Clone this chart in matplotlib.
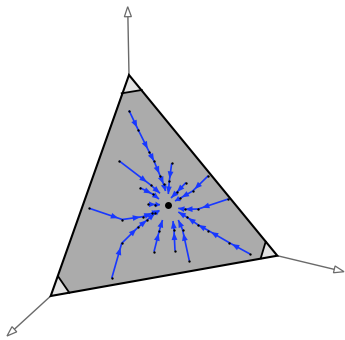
import numpy as np
import matplotlib
matplotlib.use("Agg")
import matplotlib.pyplot as plt
from matplotlib.patches import Polygon

# ---- data (image-plane coordinates of the projected simplex) ----
vertex_top = (129.0, 75.0)
vertex_left = (50.7, 296.0)
vertex_right = (277.3, 255.7)

axis_tip_top = (127.7, 6.7)
axis_tip_left = (7.0, 336.0)
axis_tip_right = (344.0, 271.7)

cut_top = [(121.7, 93.3), (141.7, 90.0)]
cut_left = [(58.3, 276.7), (69.3, 292.7)]
cut_right = [(260.7, 258.3), (265.7, 241.7)]

fixed_point = (168.3, 205.0)

traj_1 = [(129.0, 110.5), (138.3, 130.0), (149.0, 151.5), (154.0, 161.0), (160.0, 175.5), (163.5, 184.0), (165.5, 191.0)]
traj_2 = [(119.3, 161.0), (150.7, 185.0), (160.0, 193.3)]
traj_3 = [(171.7, 163.3), (169.3, 181.0), (168.3, 194.0)]
traj_4 = [(140.0, 187.7), (153.0, 194.3), (159.0, 199.0)]
traj_5 = [(186.0, 182.5), (177.0, 192.0), (171.0, 198.0)]
traj_6 = [(208.3, 175.7), (192.7, 191.0), (180.0, 198.3), (175.0, 201.0)]
traj_7 = [(228.3, 199.0), (198.3, 209.0), (185.0, 209.3), (178.3, 208.3)]
traj_8 = [(250.0, 254.0), (229.3, 242.7), (208.3, 230.5), (198.3, 225.0), (186.7, 217.0), (178.3, 212.0)]
traj_9 = [(189.3, 260.7), (182.5, 229.5), (178.3, 220.0)]
traj_10 = [(175.0, 250.7), (174.0, 230.0), (173.0, 221.0)]
traj_11 = [(154.0, 251.7), (159.3, 230.7), (162.5, 220.0)]
traj_12 = [(111.7, 278.3), (121.7, 243.3), (138.3, 227.0), (146.7, 220.3), (155.0, 213.3), (159.5, 210.5)]
traj_13 = [(89.3, 208.3), (122.3, 219.5), (142.7, 216.7), (151.7, 213.3), (158.3, 211.0)]
traj_14 = [(148.3, 204.3), (155.0, 204.5), (160.0, 204.7)]

trajectories = [traj_1, traj_2, traj_3, traj_4, traj_5, traj_6, traj_7,
                traj_8, traj_9, traj_10, traj_11, traj_12, traj_13, traj_14]

# ---- styling ----
BLUE = "#1838ff"
FILL = "#ababab"
CORNER = "#e2e2e2"
AXIS = "#6a6a6a"

fig = plt.figure(figsize=(3.45, 3.40), dpi=100)
ax = fig.add_axes([0, 0, 1, 1])
ax.set_xlim(0, 345)
ax.set_ylim(340, 0)
ax.set_aspect("equal")
ax.axis("off")


def open_arrow(ax, start, tip, length=10.0, half_w=3.5):
    s = np.array(start); t = np.array(tip)
    d = t - s
    d = d / np.linalg.norm(d)
    n = np.array([-d[1], d[0]])
    base = t - d * length
    ax.plot([s[0], base[0]], [s[1], base[1]], color=AXIS, lw=1.0, zorder=1,
             solid_capstyle="butt")
    poly = Polygon([t, base + n * half_w, base - n * half_w], closed=True,
                   facecolor="white", edgecolor=AXIS, lw=0.9, zorder=2)
    ax.add_patch(poly)


# axes of the 3D frame
open_arrow(ax, vertex_top, axis_tip_top)
open_arrow(ax, vertex_left, axis_tip_left)
open_arrow(ax, vertex_right, axis_tip_right)

# simplex
tri = Polygon([vertex_top, vertex_right, vertex_left], closed=True,
              facecolor=CORNER, edgecolor="none", zorder=3)
ax.add_patch(tri)
inner = Polygon([cut_top[1], cut_right[1], cut_right[0], cut_left[1], cut_left[0], cut_top[0]],
                closed=True, facecolor=FILL, edgecolor="none", zorder=4)
ax.add_patch(inner)
for cut in (cut_top, cut_left, cut_right):
    ax.plot([cut[0][0], cut[1][0]], [cut[0][1], cut[1][1]], color="black", lw=1.3, zorder=5)
edge = Polygon([vertex_top, vertex_right, vertex_left], closed=True,
               facecolor="none", edgecolor="black", lw=1.5, zorder=6, joinstyle="miter")
ax.add_patch(edge)

# trajectories
for tr in trajectories:
    pts = np.array(tr)
    ax.plot(pts[:, 0], pts[:, 1], color=BLUE, lw=1.2, zorder=7, solid_capstyle="butt")
    for p0, p1 in zip(pts[:-1], pts[1:]):
        d = p1 - p0
        L = np.linalg.norm(d)
        u = d / L
        n = np.array([-u[1], u[0]])
        tip = p0 + d * 0.88 if L > 14 else p1
        hl = min(7.5, L * 0.9)
        base = tip - u * hl
        ax.add_patch(Polygon([tip, base + n * 2.9, base - n * 2.9], closed=True,
                             facecolor=BLUE, edgecolor="none", zorder=8))
    ax.plot(pts[:-1, 0], pts[:-1, 1], "o", color="black", ms=1.7, mew=0, zorder=9)

ax.plot([fixed_point[0]], [fixed_point[1]], "o", color="black", ms=5, mew=0, zorder=10)

fig.savefig("out.png", dpi=100)
